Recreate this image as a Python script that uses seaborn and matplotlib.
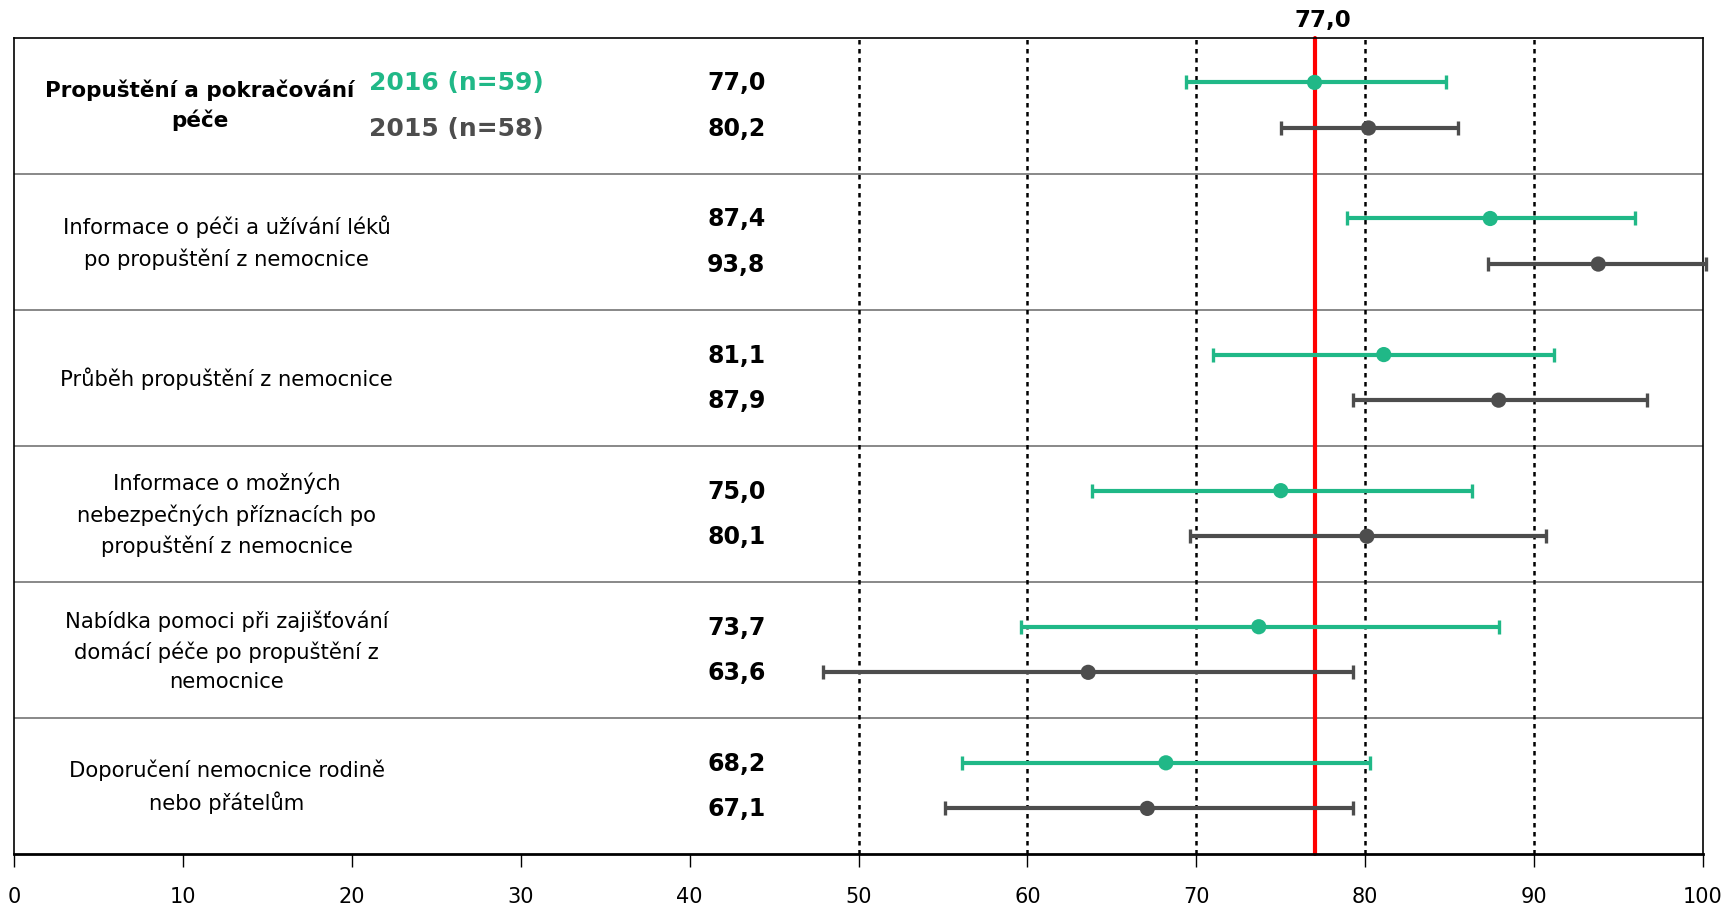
import matplotlib
matplotlib.use('Agg')
import matplotlib.pyplot as plt
import numpy as np
import pandas as pd
import seaborn as sns

# data
categories = [
    'Propuštění a pokračování\npéče',
    'Informace o péči a užívání léků\npo propuštění z nemocnice',
    'Průběh propuštění z nemocnice',
    'Informace o možných\nnebezpečných příznacích po\npropuštění z nemocnice',
    'Nabídka pomoci při zajišťování\ndomácí péče po propuštění z\nnemocnice',
    'Doporučení nemocnice rodině\nnebo přátelům',
]
mean_2016 = [77.0, 87.4, 81.1, 75.0, 73.7, 68.2]
low_2016 = [69.4, 78.9, 71.0, 63.8, 59.6, 56.1]
high_2016 = [84.8, 96.0, 91.2, 86.3, 87.9, 80.3]
mean_2015 = [80.2, 93.8, 87.9, 80.1, 63.6, 67.1]
low_2015 = [75.0, 87.3, 79.3, 69.6, 47.9, 55.1]
high_2015 = [85.5, 100.2, 96.7, 90.7, 79.3, 79.3]
series = ['2016 (n=59)', '2015 (n=58)']
reference = 77.0
gridlines = [50, 60, 70, 80, 90]

green = '#20B887'
grey = '#4D4D4D'

n = len(categories)
rows = []
for i in range(n):
    top = n - i
    rows.append(dict(cat=categories[i], year=series[0], mean=mean_2016[i],
                     lo=low_2016[i], hi=high_2016[i], y=top - 0.33))
    rows.append(dict(cat=categories[i], year=series[1], mean=mean_2015[i],
                     lo=low_2015[i], hi=high_2015[i], y=top - 0.665))
df = pd.DataFrame(rows)

sns.set_style('white')
plt.rcParams['font.family'] = ['DejaVu Sans']
plt.rcParams['text.color'] = 'black'
plt.rcParams['xtick.color'] = 'black'
plt.rcParams['xtick.labelcolor'] = 'black'

fig = plt.figure(figsize=(17.27, 9.04), dpi=100)
ax = fig.add_axes([14 / 1727, 1 - 855 / 904, (1703 - 14) / 1727, (855 - 38.5) / 904])

# grid lines and reference line
for g in gridlines:
    ax.axvline(g, color='black', lw=1.8, ls=(0, (1.8, 1.8)), zorder=1)
for k in range(1, n):
    ax.axhline(k, color='#7f7f7f', lw=1.3, zorder=0)
ax.axvline(reference, color='red', lw=3, zorder=2, clip_on=False)

# intervals + points
palette = {series[0]: green, series[1]: grey}
for yr, sub in df.groupby('year'):
    ax.errorbar(sub['mean'], sub['y'],
                xerr=[sub['mean'] - sub['lo'], sub['hi'] - sub['mean']],
                fmt='none', ecolor=palette[yr], elinewidth=3, capsize=5,
                capthick=2.4, zorder=3, clip_on=False)
sns.scatterplot(data=df, x='mean', y='y', hue='year', palette=palette,
                s=120, edgecolor='none', legend=False, zorder=4, ax=ax,
                clip_on=False)

# texts on the left
for i, cat in enumerate(categories):
    yc = n - i - 0.5
    if i == 0:
        ax.text(11.0, yc + 0.01, cat, ha='center', va='center', fontsize=15.5,
                fontweight='bold', linespacing=1.5)
    else:
        ax.text(12.6, yc, cat, ha='center', va='center', fontsize=15.2,
                linespacing=1.55)
for _, r in df.iterrows():
    ax.text(44.5, r['y'], f"{r['mean']:.1f}".replace('.', ','), ha='right',
            va='center', fontsize=17, fontweight='bold')
ax.text(21.0, df['y'].iloc[0], series[0], ha='left', va='center',
        fontsize=18, fontweight='bold', color=green)
ax.text(21.0, df['y'].iloc[1], series[1], ha='left', va='center',
        fontsize=18, fontweight='bold', color=grey)
ax.text(reference + 0.5, n + 0.05, f"{reference:.1f}".replace('.', ','),
        ha='center', va='bottom', fontsize=16.5, fontweight='bold')

ax.set_xlim(0, 100)
ax.set_ylim(0, n)
ax.set_xticks(range(0, 101, 10))
ax.set_yticks([])
ax.set_xlabel('')
ax.set_ylabel('')
ax.tick_params(axis='x', direction='out', length=9, width=1, pad=14,
               labelsize=15, bottom=True)
for side in ['top', 'left', 'right']:
    ax.spines[side].set_color('black')
    ax.spines[side].set_linewidth(1.2)
ax.spines['bottom'].set_color('black')
ax.spines['bottom'].set_linewidth(2)

plt.savefig('out.png', dpi=100)
plt.close()
